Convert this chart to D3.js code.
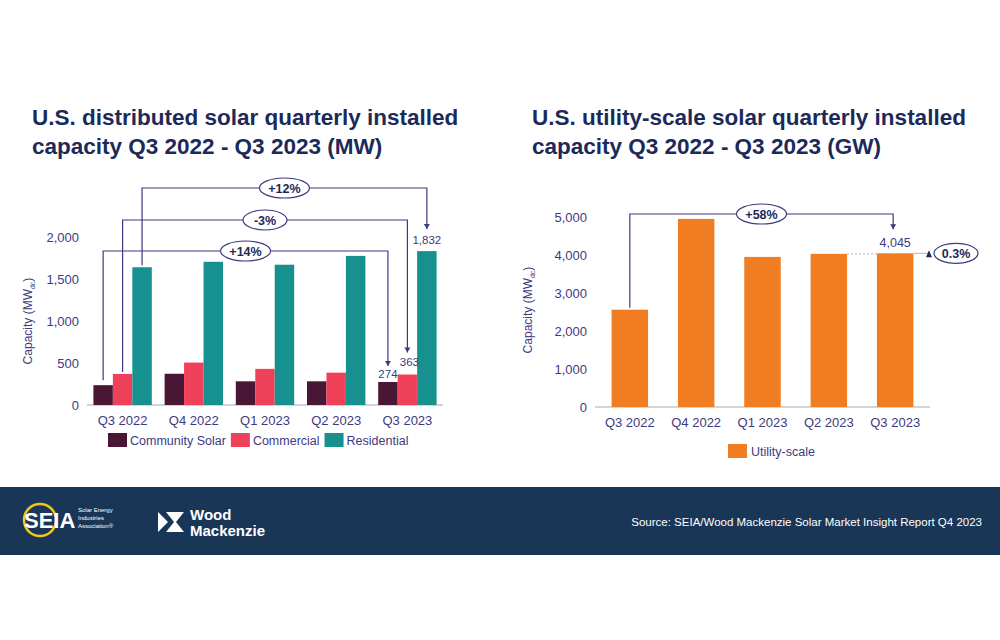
<!DOCTYPE html>
<html><head><meta charset="utf-8">
<script src="https://cdn.jsdelivr.net/npm/d3@7"></script>
<style>body{margin:0;background:#fff}svg{display:block;font-family:Arial,"Liberation Sans",sans-serif}</style>
</head><body><svg id="c" width="1000" height="640"></svg>
<script>
const quarters=["Q3 2022","Q4 2022","Q1 2023","Q2 2023","Q3 2023"];
const seriesNames=["Community Solar","Commercial","Residential"];
const community=[236,372,282,282,274];
const commercial=[370,505,430,385,363];
const residential=[1640,1705,1670,1775,1832];
const utility=[2560,4950,3950,4030,4045];
const leftTicks=[0,500,1000,1500,2000];
const rightTicks=[0,1000,2000,3000,4000,5000];
const colors=["#4a1635","#f0415a","#16918f"];
const orange="#f07d22", navy="#1c2a5a", ax="#3d3a80";

const svg=d3.select("#c");
svg.append("rect").attr("width",1000).attr("height",640).attr("fill","#fff");
[["U.S. distributed solar quarterly installed","capacity Q3 2022 - Q3 2023 (MW)",32],["U.S. utility-scale solar quarterly installed","capacity Q3 2022 - Q3 2023 (GW)",532]].forEach(t=>{
  svg.append("text").attr("x",t[2]).attr("y",125).text(t[0]).attr("font-size",22.5).attr("font-weight","bold").attr("fill",navy);
  svg.append("text").attr("x",t[2]).attr("y",154).text(t[1]).attr("font-size",22.5).attr("font-weight","bold").attr("fill",navy);
});
function yLabel(x,y){
  const t=svg.append("text").attr("transform",`translate(${x},${y}) rotate(-90)`).attr("text-anchor","middle").attr("font-size",12).attr("fill",ax);
  t.append("tspan").text("Capacity (MW");t.append("tspan").text("dc").attr("font-size",7).attr("dy",3);t.append("tspan").text(")").attr("dy",-3);
}
function axes(g,x,y,ticks,x0,x1){
  g.append("line").attr("x1",x0).attr("x2",x1).attr("y1",y(0)).attr("y2",y(0)).attr("stroke","#a8a8c0");
  ticks.forEach(v=>g.append("text").attr("x",x0-8).attr("y",y(v)+4.5).attr("text-anchor","end").attr("font-size",13).attr("fill",ax).text(d3.format(",")(v)));
  quarters.forEach(q=>g.append("text").attr("x",x(q)+x.bandwidth()/2).attr("y",y(0)+20).attr("text-anchor","middle").attr("font-size",13).attr("fill",ax).text(q));
}
function pill(g,cx,cy,txt,w){
  g.append("ellipse").attr("cx",cx).attr("cy",cy).attr("rx",w/2).attr("ry",10).attr("fill","#fff").attr("stroke","#3d3a80").attr("stroke-width",1.2);
  g.append("text").attr("x",cx).attr("y",cy+4.5).attr("text-anchor","middle").attr("font-size",12.5).attr("font-weight","bold").attr("fill",navy).text(txt);
}
function bracket(g,xa,ya,xb,yb,ly,label,w){
  g.append("path").attr("d",`M${xa},${ya}V${ly}H${xb}V${yb}`).attr("fill","none").attr("stroke","#3d3a80").attr("stroke-width",1.2);
  g.append("path").attr("d",`M${xb-3},${yb-5}L${xb+3},${yb-5}L${xb},${yb}Z`).attr("fill","#3d3a80");
  pill(g,(xa+xb)/2,ly,label,w);
}
// LEFT
const gL=svg.append("g");
const xL=d3.scaleBand().domain(quarters).range([87,443]).paddingInner(0.18).paddingOuter(0.09);
const yL=d3.scaleLinear().domain([0,2000]).range([405,237]);
const xs=d3.scaleBand().domain(seriesNames).range([0,xL.bandwidth()]);
yLabel(32,321);
axes(gL,xL,yL,leftTicks,87,443);
[community,commercial,residential].forEach((arr,si)=>{
  gL.selectAll(null).data(arr).enter().append("rect")
   .attr("x",(d,i)=>xL(quarters[i])+xs(seriesNames[si])).attr("width",xs.bandwidth())
   .attr("y",d=>yL(d)).attr("height",d=>yL(0)-yL(d)).attr("fill",colors[si]);
});
const cx=(si,i)=>xL(quarters[i])+xs(seriesNames[si])+xs.bandwidth()/2;
gL.append("text").attr("x",cx(0,4)).attr("y",yL(community[4])-4).attr("text-anchor","middle").attr("font-size",11.5).attr("fill",ax).text("274");
gL.append("text").attr("x",cx(1,4)+2).attr("y",yL(commercial[4])-9).attr("text-anchor","middle").attr("font-size",11.5).attr("fill",ax).text("363");
gL.append("text").attr("x",cx(2,4)).attr("y",yL(residential[4])-7).attr("text-anchor","middle").attr("font-size",11.5).attr("fill",ax).text("1,832");
bracket(gL,cx(0,0),yL(community[0])-5,cx(0,4),yL(community[4])-16,251,"+14%",50);
bracket(gL,cx(1,0),yL(commercial[0])-2,cx(1,4),yL(commercial[4])-22,220,"-3%",44);
bracket(gL,cx(2,0),yL(residential[0])-2,cx(2,4),yL(residential[4])-22,188,"+12%",50);
let lx=108;
seriesNames.forEach((n,i)=>{
  gL.append("rect").attr("x",lx).attr("y",433).attr("width",19).attr("height",14).attr("fill",colors[i]);
  const t=gL.append("text").attr("x",lx+22).attr("y",445).attr("font-size",12.5).attr("fill",ax).text(n);
  lx+=22+t.node().getComputedTextLength()+5;
});
// RIGHT
const gR=svg.append("g");
const xR=d3.scaleBand().domain(quarters).range([595,930]).paddingInner(0.45).paddingOuter(0.25);
const yR=d3.scaleLinear().domain([0,5000]).range([407,217]);
yLabel(532,310);
axes(gR,xR,yR,rightTicks,595,930);
gR.selectAll(null).data(utility).enter().append("rect")
  .attr("x",(d,i)=>xR(quarters[i])).attr("width",xR.bandwidth())
  .attr("y",d=>yR(d)).attr("height",d=>yR(0)-yR(d)).attr("fill",orange);
const cr=i=>xR(quarters[i])+xR.bandwidth()/2;
gR.append("text").attr("x",cr(4)).attr("y",yR(utility[4])-6).attr("text-anchor","middle").attr("font-size",12.5).attr("fill",ax).text("4,045");
bracket(gR,cr(0),yR(utility[0])-2,cr(4)-2,yR(utility[4])-24,214,"+58%",50);
gR.append("line").attr("x1",xR(quarters[3])+xR.bandwidth()).attr("x2",xR(quarters[4])).attr("y1",yR(utility[3])).attr("y2",yR(utility[3])).attr("stroke","#b0b0c8").attr("stroke-dasharray","2,2");
gR.append("line").attr("x1",xR(quarters[4])+xR.bandwidth()).attr("x2",928).attr("y1",yR(utility[4])).attr("y2",yR(utility[4])).attr("stroke","#b0b0c8");
gR.append("path").attr("d",`M926,${yR(utility[4])+4}L929,${yR(utility[4])-3}L932,${yR(utility[4])+4}Z`).attr("fill",navy);
pill(gR,956,yR(utility[4]),"0.3%",44);
gR.append("rect").attr("x",728).attr("y",444).attr("width",19).attr("height",14).attr("fill",orange);
gR.append("text").attr("x",751).attr("y",456).attr("font-size",12.5).attr("fill",ax).text("Utility-scale");
// footer
svg.append("rect").attr("x",0).attr("y",487).attr("width",1000).attr("height",68).attr("fill","#1a3657");
svg.append("circle").attr("cx",40).attr("cy",520).attr("r",16).attr("fill","none").attr("stroke","#f5c518").attr("stroke-width",2.5);
svg.append("text").attr("x",24).attr("y",528).attr("font-size",22).attr("font-weight","bold").attr("fill","#fff").text("SEIA");
["Solar Energy","Industries","Association®"].forEach((s,i)=>svg.append("text").attr("x",78).attr("y",512+i*8).attr("font-size",6).attr("fill","#fff").text(s));
svg.append("path").attr("d","M158,512L168,522L158,532Z M166,512L184,512L176,522L184,532L166,532L174,522Z").attr("fill","#fff");
svg.append("text").attr("x",190).attr("y",520).attr("font-size",15).attr("font-weight","bold").attr("fill","#fff").text("Wood");
svg.append("text").attr("x",190).attr("y",536).attr("font-size",15).attr("font-weight","bold").attr("fill","#fff").text("Mackenzie");
svg.append("text").attr("x",982).attr("y",526).attr("text-anchor","end").attr("font-size",11.5).attr("fill","#fff").text("Source: SEIA/Wood Mackenzie Solar Market Insight Report Q4 2023");
</script></body></html>
